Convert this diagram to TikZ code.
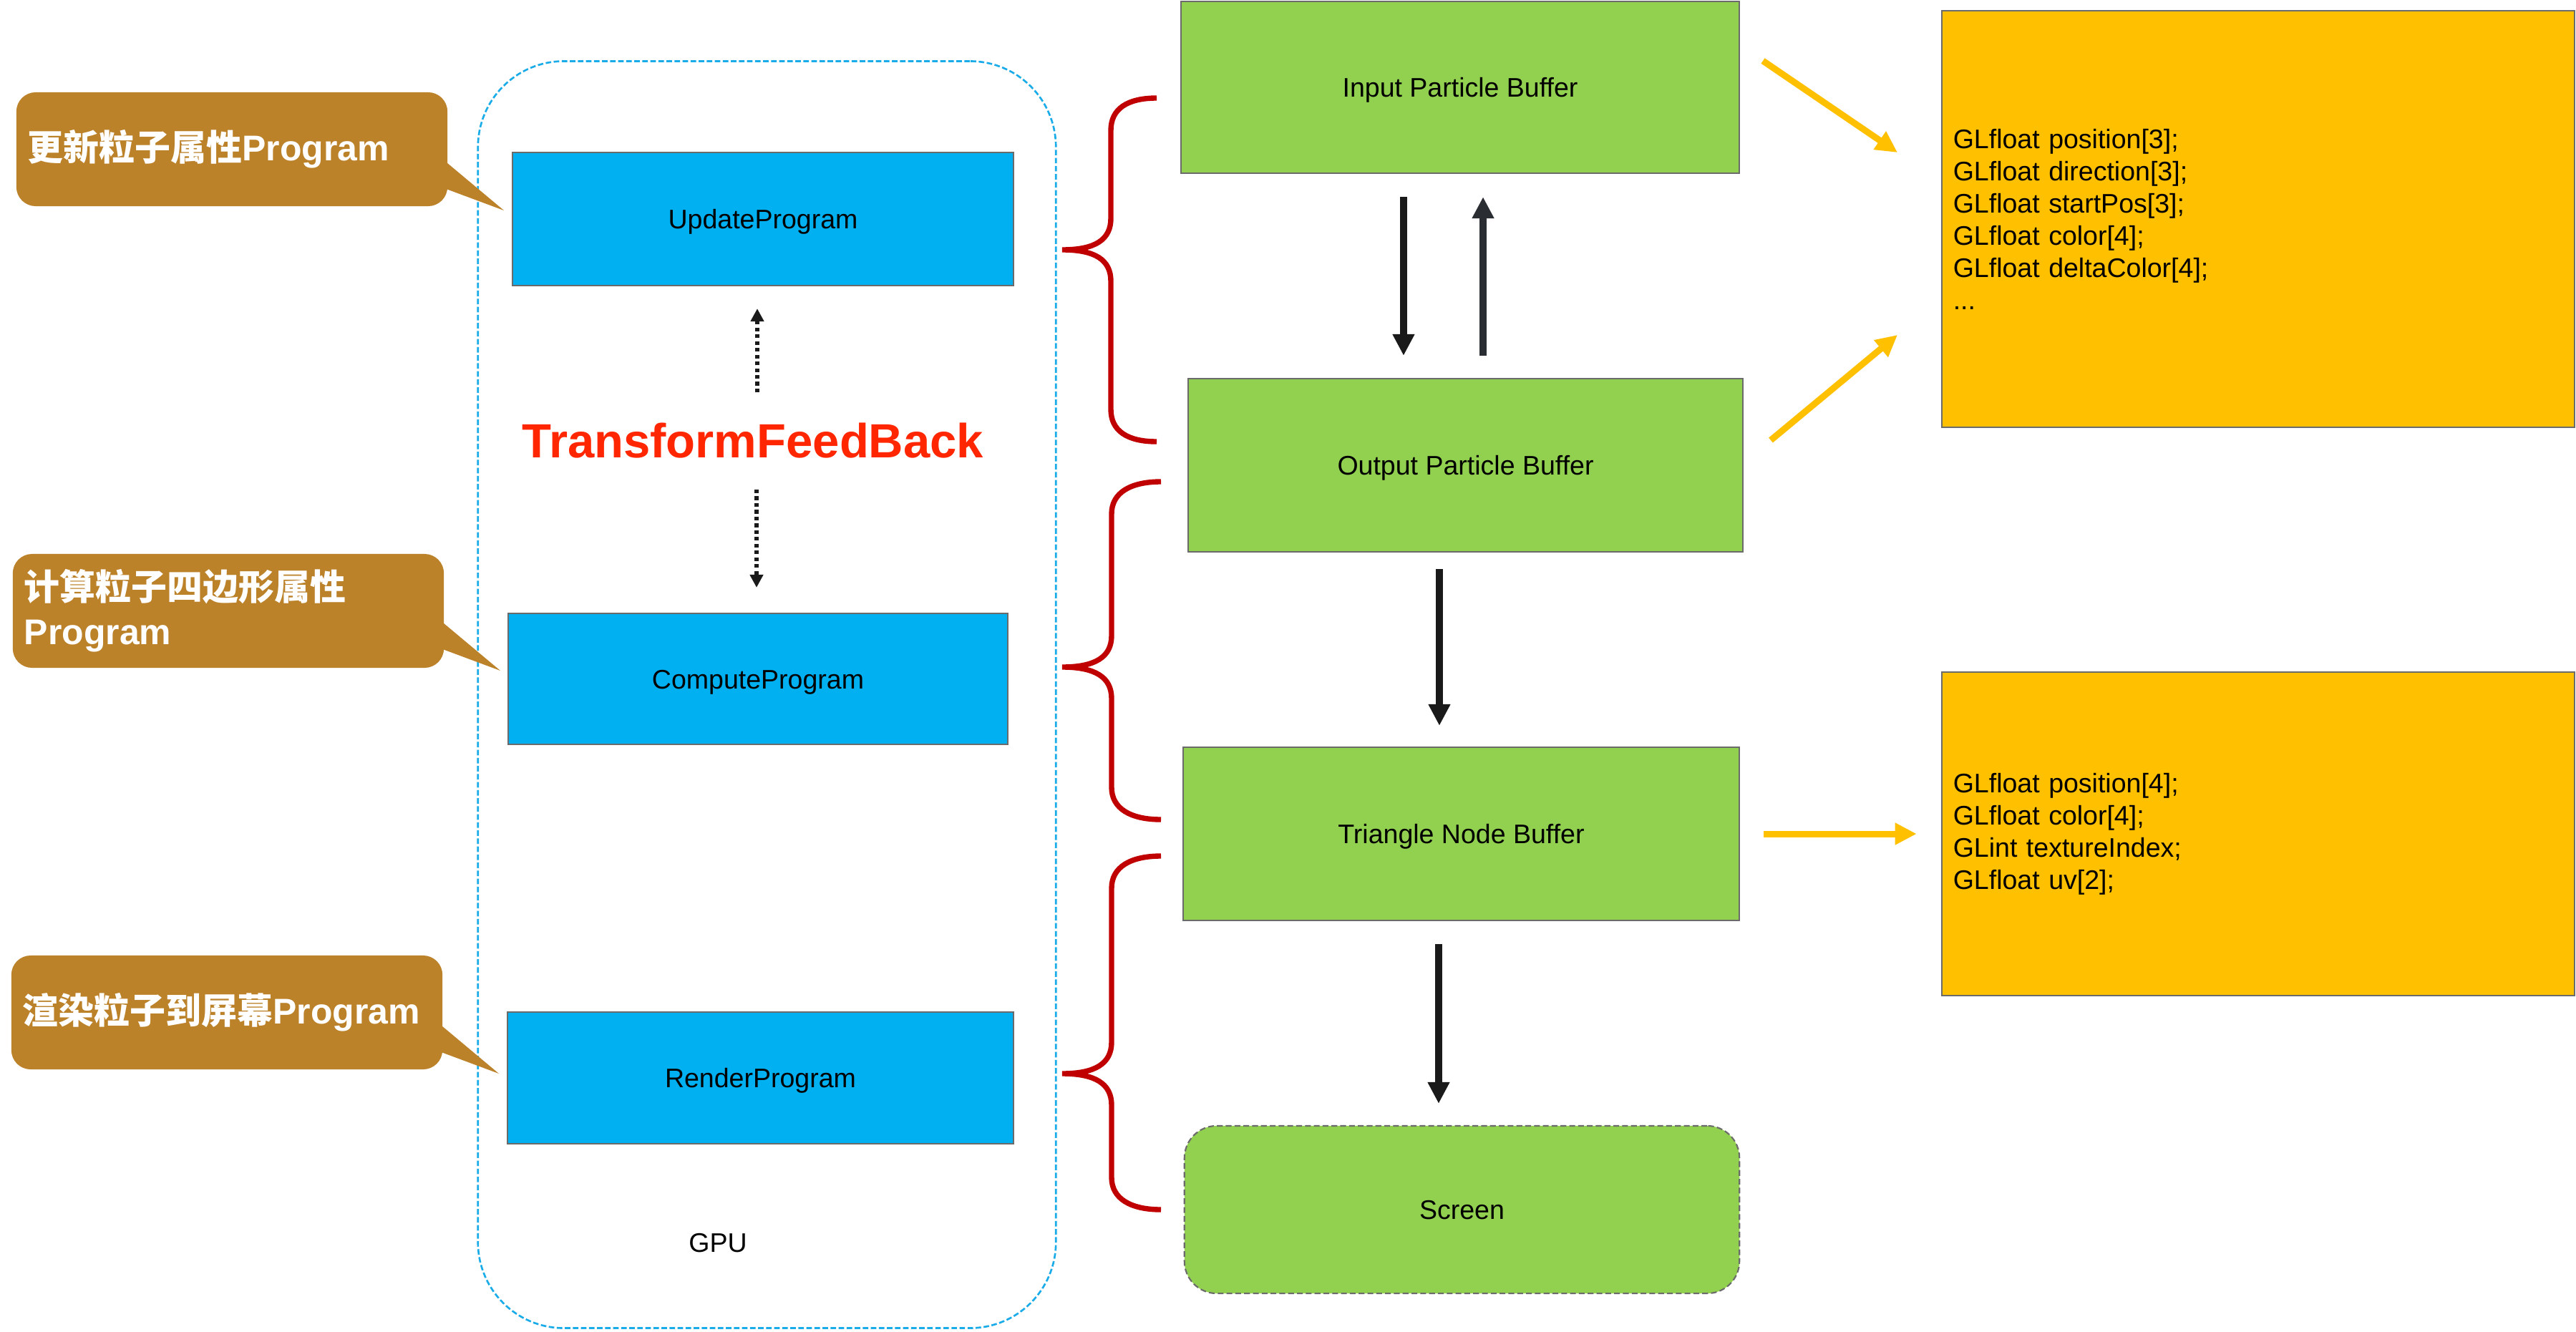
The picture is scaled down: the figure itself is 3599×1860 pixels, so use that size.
\documentclass[tikz,border=0pt]{standalone}
\usepackage{fontspec}
\setmainfont{Liberation Sans}
\newfontfamily\cjk{Noto Sans CJK SC}
\usetikzlibrary{arrows.meta,calc}
\definecolor{blu}{HTML}{00B0F0}
\definecolor{grn}{HTML}{92D050}
\definecolor{ylw}{HTML}{FFC000}
\definecolor{brn}{HTML}{BC822A}
\definecolor{brcred}{HTML}{C00000}
\definecolor{tfred}{HTML}{FF2600}
\definecolor{gpub}{HTML}{1AACE8}
\definecolor{bord}{HTML}{6B6B6B}
\definecolor{arrblk}{HTML}{1A1A1A}
\definecolor{arrslate}{HTML}{2A2E33}
\begin{document}
\begin{tikzpicture}[x=0.01cm,y=-0.01cm,
  lblfont/.style={font=\fontsize{10.67pt}{12.8pt}\selectfont},
  box/.style={draw=bord, line width=0.6pt, inner sep=0pt, lblfont, text height=0.98em, text depth=0.21em},
  bluebox/.style={box, fill=blu},
  greenbox/.style={box, fill=grn},
  ybox/.style={draw=bord, line width=0.6pt, lblfont, fill=ylw, minimum width=8.84cm, text width=8.52cm, inner xsep=0.16cm, inner ysep=0pt, align=left},
  callout/.style={fill=brn, rounded corners=0.27cm, minimum width=6.02cm, minimum height=1.59cm,
    text width=5.70cm, inner xsep=0.16cm, inner ysep=0pt, align=left, text=white,
    font=\fontsize{14.2pt}{17.6pt}\selectfont\bfseries},
  blk/.style={line width=2.85pt, draw=arrblk, -{Triangle[length=0.30cm,width=0.29cm]}},
  yar/.style={line width=2.56pt, draw=ylw, -{Triangle[length=0.30cm,width=0.29cm]}},
  dotar/.style={line width=1.5pt, draw=arrblk, dash pattern=on 1.5pt off 1.2pt, -{Triangle[length=0.18cm,width=0.18cm]}},
  brc/.style={line width=2.1pt, draw=brcred},
]
\fill[white] (0,0) rectangle (3599,1860);
\path[use as bounding box] (0,0) rectangle (3599,1860);

% GPU container
\node[draw=gpub, line width=0.75pt, dash pattern=on 2.2pt off 1pt, rounded corners=1.2cm,
      minimum width=8.07cm, minimum height=17.69cm, inner sep=0pt] (gpu) at (1071.5,970.5) {};
\node[lblfont] (gpulbl) at (1003,1737) {GPU};

% program boxes
\node[bluebox, minimum width=6.99cm, minimum height=1.86cm] (upd) at (1066,306) {UpdateProgram};
\node[bluebox, minimum width=6.98cm, minimum height=1.83cm] (cmp) at (1059,948.5) {ComputeProgram};
\node[bluebox, minimum width=7.07cm, minimum height=1.84cm] (rnd) at (1062.5,1506) {RenderProgram};

% TransformFeedBack
\node[font=\fontsize{19.06pt}{22pt}\selectfont\bfseries, text=tfred, minimum height=1.18cm, inner sep=0pt] (tf) at (1052,616) {TransformFeedBack};
\draw[dotar, shorten <=0.08cm, shorten >=0.31cm] ([xshift=0.06cm]tf.north) -- ([xshift=0.06cm]tf.north |- upd.south);
\draw[dotar, shorten <=0.08cm, shorten >=0.35cm] ([xshift=0.05cm]tf.south) -- ([xshift=0.05cm]tf.south |- cmp.north);

% callouts
\fill[brn] (618,222) -- (704,294) -- (618,262) -- cycle;
\node[callout] (c1) at (324,208.5) {\raisebox{-0.1em}{{\cjk\bfseries 更新粒子属性}Program}};
\fill[brn] (613,865) -- (699,937) -- (613,905) -- cycle;
\node[callout] (c2) at (319,853.5) {{\cjk\bfseries 计算粒子四边形属性}\\Program};
\fill[brn] (611,1428) -- (697,1500) -- (611,1468) -- cycle;
\node[callout] (c3) at (317,1414.5) {\raisebox{-0.1em}{{\cjk\bfseries 渲染粒子到屏幕}Program}};

% buffers
\node[greenbox, minimum width=7.80cm, minimum height=2.40cm] (inp) at (2040,122) {Input Particle Buffer};
\node[greenbox, minimum width=7.75cm, minimum height=2.42cm] (out) at (2047.5,650) {Output Particle Buffer};
\node[greenbox, minimum width=7.77cm, minimum height=2.42cm] (tri) at (2041.5,1165) {Triangle Node Buffer};
\node[greenbox, rounded corners=0.45cm, dash pattern=on 2.3pt off 1.2pt, minimum width=7.75cm, minimum height=2.34cm] (scr) at (2042.5,1690) {Screen};

% black arrows
\draw[blk, shorten <=0.32cm, shorten >=0.31cm] ([xshift=-0.79cm]inp.south) -- ([xshift=-0.79cm]inp.south |- out.north);
\draw[blk, draw=arrslate, shorten <=0.31cm, shorten >=0.32cm] ([xshift=0.245cm]out.north) -- ([xshift=0.245cm]out.north |- inp.south);
\draw[blk, shorten <=0.23cm, shorten >=0.29cm] ([xshift=-0.365cm]out.south) -- ([xshift=-0.365cm]out.south |- tri.north);
\draw[blk, shorten <=0.32cm, shorten >=0.30cm] ([xshift=-0.315cm]tri.south) -- ([xshift=-0.315cm]tri.south |- scr.north);

% braces
\draw[brc] (1616,137) .. controls (1575,137) and (1552,152) .. (1552,182) -- (1552,305)
  .. controls (1552,335) and (1530,349) .. (1484,349)
  .. controls (1530,349) and (1552,363) .. (1552,393) -- (1552,572)
  .. controls (1552,602) and (1575,617) .. (1616,617);
\draw[brc] (1622,673) .. controls (1580,673) and (1553,688) .. (1553,718) -- (1553,888)
  .. controls (1553,918) and (1530,932) .. (1484,932)
  .. controls (1530,932) and (1553,946) .. (1553,976) -- (1553,1100)
  .. controls (1553,1130) and (1580,1145) .. (1622,1145);
\draw[brc] (1622,1196) .. controls (1580,1196) and (1553,1211) .. (1553,1241) -- (1553,1456)
  .. controls (1553,1486) and (1530,1500) .. (1484,1500)
  .. controls (1530,1500) and (1553,1514) .. (1553,1544) -- (1553,1645)
  .. controls (1553,1675) and (1580,1690) .. (1622,1690);

% yellow boxes
\node[ybox, minimum height=5.82cm] (yb1) at (3155,306) {GLfloat position[3];\\GLfloat direction[3];\\GLfloat startPos[3];\\GLfloat color[4];\\GLfloat deltaColor[4];\\...};
\node[ybox, minimum height=4.52cm] (yb2) at (3155,1165) {GLfloat position[4];\\GLfloat color[4];\\GLint textureIndex;\\GLfloat uv[2];};

% yellow arrows
\coordinate (ya1s) at (2463,85);
\coordinate (ya1e) at (2651,213);
\coordinate (ya2s) at (2474,615);
\coordinate (ya2e) at (2651,468);
\draw[yar] (ya1s) -- (ya1e);
\draw[yar] (ya2s) -- (ya2e);
\draw[yar, shorten <=0.33cm, shorten >=0.34cm] (tri.east) -- (tri.east -| yb2.west);
\end{tikzpicture}
\end{document}
